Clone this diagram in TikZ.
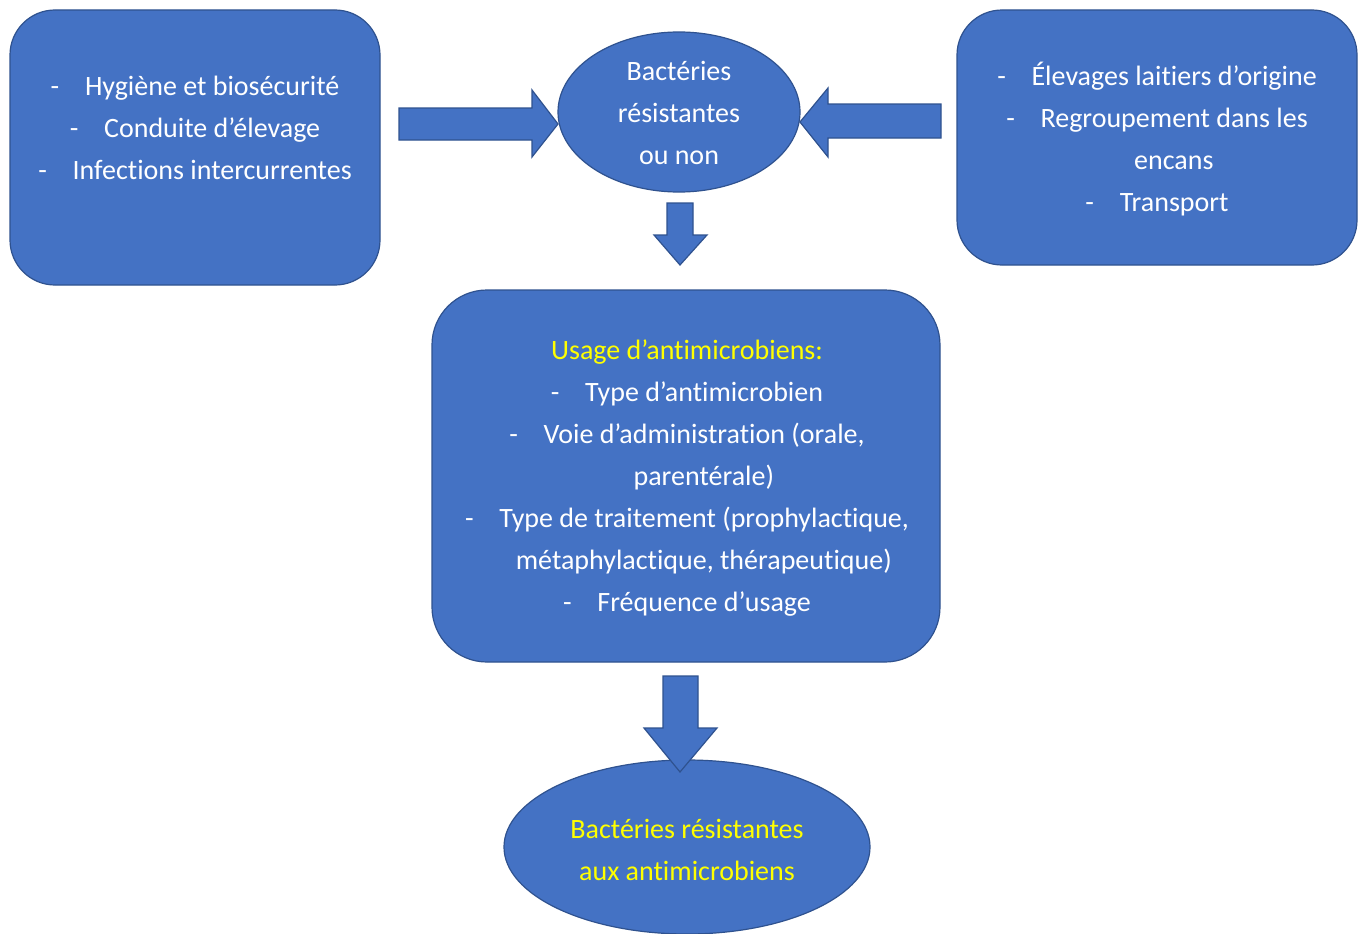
\documentclass[tikz,border=0pt]{standalone}
\usepackage{fontspec}
\setmainfont[Ligatures=NoCommon]{Carlito}
\usetikzlibrary{shapes.geometric}
\definecolor{boxfill}{HTML}{4472C4}
\definecolor{boxline}{HTML}{2F528F}
\definecolor{hl}{HTML}{FFFF00}
\tikzset{
  blk/.style={fill=boxfill,draw=boxline,line width=1.2pt},
  txt/.style={text=white,align=center,font=\fontsize{28}{42}\selectfont,inner sep=0pt},
}
\newcommand{\dashitem}[1]{-\hspace{0.92em}#1}
\newcommand{\contline}[1]{\hspace{1.2em}#1}
\begin{document}
\begin{tikzpicture}[x=1pt,y=-1pt]
\useasboundingbox (0,0) rectangle (1365,934);
\fill[white] (0,0) rectangle (1365,934);
% boxes
\draw[blk,rounded corners=45pt] (10,10) rectangle (380,285);
\draw[blk,rounded corners=45pt] (957,10) rectangle (1357,265);
\draw[blk,rounded corners=55pt] (432,290) rectangle (940,662);
\draw[blk] (679,112) ellipse [x radius=121, y radius=80];
\draw[blk] (687,847) ellipse [x radius=183, y radius=87];
% arrows
\draw[blk] (399,108) -- (532,108) -- (532,90) -- (558,124) -- (532,157) -- (532,140) -- (399,140) -- cycle;
\draw[blk] (941,104) -- (828,104) -- (828,88) -- (800,122) -- (828,157) -- (828,138) -- (941,138) -- cycle;
\draw[blk] (667,203) -- (693,203) -- (693,235) -- (707,235) -- (680,265) -- (654,235) -- (667,235) -- cycle;
\draw[blk] (663,676) -- (698,676) -- (698,728) -- (717,728) -- (680,772) -- (644,728) -- (663,728) -- cycle;
% texts
\node[txt] (lefttxt) at (195,128) {\dashitem{Hygiène et biosécurité}\\ \dashitem{Conduite d’élevage}\\ \dashitem{Infections intercurrentes}};
\node[txt] (righttxt) at (1157,139) {\dashitem{Élevages laitiers d’origine}\\ \dashitem{Regroupement dans les}\\ \contline{encans}\\ \dashitem{Transport}};
\node[txt] (toptxt) at (679,113) {Bactéries\\résistantes\\ou non};
\node[txt] (midtxt) at (687,478) {\textcolor{hl}{Usage d’antimicrobiens:}\\ \dashitem{Type d’antimicrobien}\\ \dashitem{Voie d’administration (orale,}\\ \contline{parentérale)}\\ \dashitem{Type de traitement (prophylactique,}\\ \contline{métaphylactique, thérapeutique)}\\ \dashitem{Fréquence d’usage}};
\node[txt,text=hl] (bottxt) at (687,850) {Bactéries résistantes\\aux antimicrobiens};
\end{tikzpicture}
\end{document}
